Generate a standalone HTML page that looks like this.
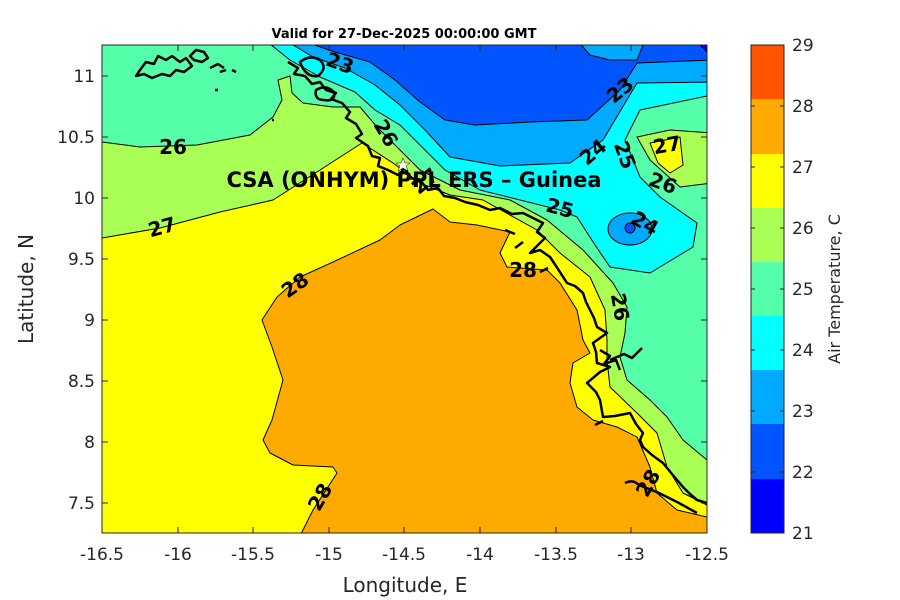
<!DOCTYPE html>
<html><head><meta charset="utf-8"><style>
html,body{margin:0;padding:0;background:#fff;}
svg{display:block;font-family:"DejaVu Sans","Liberation Sans",sans-serif;}
</style></head><body>
<svg width="900" height="600" viewBox="0 0 900 600" xmlns="http://www.w3.org/2000/svg">
<rect width="900" height="600" fill="#fff"/>
<defs><clipPath id="pc"><rect x="102" y="45" width="605" height="488"/></clipPath></defs>
<g clip-path="url(#pc)" stroke="#000" stroke-width="1" stroke-linejoin="round">
<rect x="102" y="45" width="605" height="488" fill="#55ffaa" stroke="none"/>
<polygon fill="#aaff55" points="95,142 102,142 140,147 197,145 250,135 273,117 282,100 278,80 290,76 292,93 303,103 333,107 360,107 377,127 390,140 420,170 460,190 510,200 547,220 583,250 613,283 627,307 625,333 620,357 627,380 650,400 667,417 683,440 707,460 712,540 95,540"/>
<polygon fill="#ffff00" points="95,238 102,238 160,228 220,212 273,200 320,170 362,143 393,163 420,183 450,195 483,200 537,230 560,253 590,277 605,310 607,340 607,360 610,387 637,413 657,433 667,467 683,493 707,505 712,540 95,540"/>
<polygon fill="#ffaa00" points="298,540 313,510 337,473 333,467 293,465 270,453 263,440 272,420 283,380 272,347 262,320 277,297 300,277 333,262 380,240 400,225 433,209 450,222 477,225 510,232 500,253 507,267 547,270 560,283 577,310 583,340 590,353 573,363 570,383 577,407 593,420 617,427 637,437 650,467 657,493 677,510 707,517 712,540"/>
<polygon fill="#aaff55" points="637,137 670,130 712,133 712,183 680,187 650,160"/>
<polygon fill="#ffff00" points="650,143 680,137 683,165 670,173 658,163"/>
<polygon fill="#00ffff" points="265,40 290,60 320,77 355,92 375,110 400,125 420,145 445,170 480,190 520,200 560,210 577,217 595,245 610,267 650,273 693,247 697,223 660,197 640,177 625,140 640,110 712,95 712,40"/>
<polygon fill="#00aaff" points="285,40 313,57 345,68 375,85 400,105 425,130 450,157 500,166 570,163 603,140 637,83 712,82 712,40"/>
<polygon fill="#0055ff" points="300,40 335,52 370,62 395,80 420,102 445,120 475,125 530,122 587,120 620,90 637,63 712,60 712,40"/>
<polygon fill="#00aaff" points="577,40 590,55 610,60 637,60 645,40"/>
<polygon fill="#0000ff" points="695,40 712,40 712,57"/>
<ellipse cx="630" cy="229" rx="22" ry="16" fill="#00aaff"/>
<circle cx="630" cy="228" r="5" fill="#0055ff"/>
<g fill="none" stroke-width="2.5">
<path d="M288,62 L298,68 294,74 305,76 312,84 320,82 326,90 336,93 331,99 342,103 350,112 346,118 356,124 362,134 356,138 368,146 372,156 380,158 378,166 388,170 398,175 405,168 410,178 420,180 428,190 438,188 444,196 455,198 465,202 478,205 490,210 500,208 512,214 523,213 533,218 543,223 537,232 545,238 530,253 540,250 550,257 556,266 567,283 575,286 583,293 586,302 590,310 594,318 597,327 607,333 600,338 593,343 596,352 597,363 610,367 600,372 587,383 596,392 600,400 603,417 615,416 630,413 636,424 643,433 640,440 643,447 652,455 663,463 672,474 683,487 690,494 697,500 707,503"/>
<path d="M600,350 l10,6 -6,8 12,-4 4,10 M610,360 l14,-6 8,4 10,-10 M625,483 q8,-4 14,2 l20,8 20,10 18,10 M595,425 l8,-4 M505,230 l10,4 M515,248 l8,-6 M540,272 l8,-4"/>
<path d="M140,70 l6,-8 8,2 4,-8 8,4 6,-4 8,6 6,-4 6,8 -8,6 -8,-2 -6,6 -8,-2 -10,4 -8,-4 -8,2 z M190,56 l6,-6 8,2 4,6 -6,4 -8,-2z M210,68 l8,-4 6,4 M220,72 l6,-2 M232,70 l4,2 M215,90 l3,0 M300,62 q10,-8 20,-2 q8,8 -2,16 q-12,2 -18,-14z M316,90 q10,-6 18,2 q2,10 -10,8 q-10,0 -8,-10z M272,120 l2,0"/>
</g>
<g font-weight="bold" font-size="20" fill="#000" stroke="none" text-anchor="middle">
<text x="173" y="154">26</text>
<text x="162" y="234" transform="rotate(-15 162 227)">27</text>
<text x="295" y="292" transform="rotate(-35 295 285)">28</text>
<text x="320" y="504" transform="rotate(-60 320 497)">28</text>
<text x="620" y="97" transform="rotate(-40 620 90)">23</text>
<text x="593" y="159" transform="rotate(-40 593 152)">24</text>
<text x="625" y="162" transform="rotate(70 625 155)">25</text>
<text x="667" y="152" transform="rotate(-10 667 145)">27</text>
<text x="663" y="190" transform="rotate(20 663 183)">26</text>
<text x="560" y="215" transform="rotate(15 560 208)">25</text>
<text x="645" y="230" transform="rotate(30 645 223)">24</text>
<text x="523" y="277">28</text>
<text x="620" y="314" transform="rotate(80 620 307)">26</text>
<text x="340" y="70" transform="rotate(20 340 63)">23</text>
<text x="386" y="140" transform="rotate(60 386 133)">26</text>
<text x="425" y="188" transform="rotate(-40 425 181)">27</text>
<text x="648" y="490" transform="rotate(-60 648 483)">28</text>
<text x="414" y="187" font-size="21">CSA (ONHYM) PPL ERS  – Guinea</text>
</g>
<polygon points="403,158 405,163 410,163 406,166 408,171 403,168 398,171 400,166 396,163 401,163" fill="#fff" stroke="#000" stroke-width="0.5"/>
</g>
<rect x="102" y="45" width="605" height="488" fill="none" stroke="#262626" stroke-width="1"/>
<g stroke="#262626" stroke-width="1">
<line x1="102" y1="533" x2="102" y2="527"/><line x1="178" y1="533" x2="178" y2="527"/><line x1="253" y1="533" x2="253" y2="527"/><line x1="329" y1="533" x2="329" y2="527"/><line x1="404" y1="533" x2="404" y2="527"/><line x1="480" y1="533" x2="480" y2="527"/><line x1="556" y1="533" x2="556" y2="527"/><line x1="631" y1="533" x2="631" y2="527"/><line x1="707" y1="533" x2="707" y2="527"/>
<line x1="178" y1="45" x2="178" y2="51"/><line x1="253" y1="45" x2="253" y2="51"/><line x1="329" y1="45" x2="329" y2="51"/><line x1="404" y1="45" x2="404" y2="51"/><line x1="480" y1="45" x2="480" y2="51"/><line x1="556" y1="45" x2="556" y2="51"/><line x1="631" y1="45" x2="631" y2="51"/>
<line x1="102" y1="76" x2="108" y2="76"/><line x1="102" y1="137" x2="108" y2="137"/><line x1="102" y1="198" x2="108" y2="198"/><line x1="102" y1="259" x2="108" y2="259"/><line x1="102" y1="320" x2="108" y2="320"/><line x1="102" y1="381" x2="108" y2="381"/><line x1="102" y1="442" x2="108" y2="442"/><line x1="102" y1="503" x2="108" y2="503"/>
<line x1="707" y1="76" x2="701" y2="76"/><line x1="707" y1="137" x2="701" y2="137"/><line x1="707" y1="198" x2="701" y2="198"/><line x1="707" y1="259" x2="701" y2="259"/><line x1="707" y1="320" x2="701" y2="320"/><line x1="707" y1="381" x2="701" y2="381"/><line x1="707" y1="442" x2="701" y2="442"/><line x1="707" y1="503" x2="701" y2="503"/>
</g>
<g font-size="17" fill="#262626" text-anchor="middle">
<text x="102" y="560">-16.5</text><text x="178" y="560">-16</text><text x="253" y="560">-15.5</text><text x="329" y="560">-15</text><text x="404" y="560">-14.5</text><text x="480" y="560">-14</text><text x="556" y="560">-13.5</text><text x="631" y="560">-13</text><text x="707" y="560">-12.5</text>
</g>
<g font-size="17" fill="#262626" text-anchor="end">
<text x="95" y="82">11</text><text x="95" y="143">10.5</text><text x="95" y="204">10</text><text x="95" y="265">9.5</text><text x="95" y="326">9</text><text x="95" y="387">8.5</text><text x="95" y="448">8</text><text x="95" y="509">7.5</text>
</g>
<text x="405" y="592" font-size="20" fill="#262626" text-anchor="middle">Longitude, E</text>
<text x="33" y="289" font-size="20" fill="#262626" text-anchor="middle" transform="rotate(-90 33 289)">Latitude, N</text>
<text x="404" y="38" font-size="13" font-weight="bold" fill="#000" text-anchor="middle">Valid for 27-Dec-2025 00:00:00 GMT</text>
<g>
<rect x="751" y="45" width="33" height="54" fill="#ff5500"/>
<rect x="751" y="99" width="33" height="55" fill="#ffaa00"/>
<rect x="751" y="154" width="33" height="54" fill="#ffff00"/>
<rect x="751" y="208" width="33" height="54" fill="#aaff55"/>
<rect x="751" y="262" width="33" height="54" fill="#55ffaa"/>
<rect x="751" y="316" width="33" height="54" fill="#00ffff"/>
<rect x="751" y="370" width="33" height="54" fill="#00aaff"/>
<rect x="751" y="424" width="33" height="55" fill="#0055ff"/>
<rect x="751" y="479" width="33" height="54" fill="#0000ff"/>
<rect x="751" y="45" width="33" height="488" fill="none" stroke="#262626"/>
</g>
<g stroke="#262626"><line x1="751" y1="106" x2="755" y2="106"/><line x1="751" y1="167" x2="755" y2="167"/><line x1="751" y1="228" x2="755" y2="228"/><line x1="751" y1="289" x2="755" y2="289"/><line x1="751" y1="350" x2="755" y2="350"/><line x1="751" y1="411" x2="755" y2="411"/><line x1="751" y1="472" x2="755" y2="472"/>
<line x1="784" y1="106" x2="780" y2="106"/><line x1="784" y1="167" x2="780" y2="167"/><line x1="784" y1="228" x2="780" y2="228"/><line x1="784" y1="289" x2="780" y2="289"/><line x1="784" y1="350" x2="780" y2="350"/><line x1="784" y1="411" x2="780" y2="411"/><line x1="784" y1="472" x2="780" y2="472"/></g>
<g font-size="17" fill="#262626">
<text x="792" y="51">29</text><text x="792" y="112">28</text><text x="792" y="173">27</text><text x="792" y="234">26</text><text x="792" y="295">25</text><text x="792" y="356">24</text><text x="792" y="417">23</text><text x="792" y="478">22</text><text x="792" y="539">21</text>
</g>
<text x="840" y="289" font-size="16" fill="#262626" text-anchor="middle" transform="rotate(-90 840 289)">Air Temperature, C</text>
</svg>
</body></html>
